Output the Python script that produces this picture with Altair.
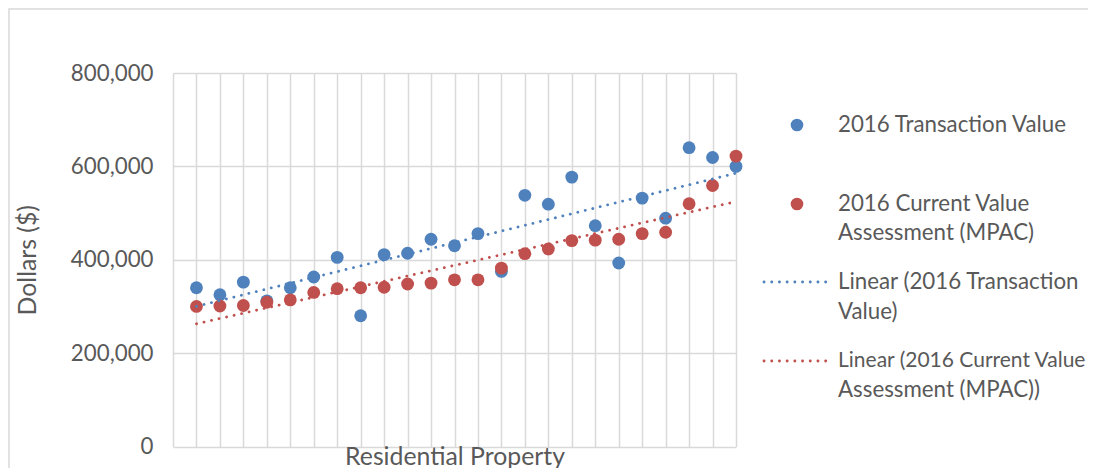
import altair as alt
import pandas as pd

# ---- data ----
properties = list(range(1, 25))
transaction_value = [340000, 325000, 352000, 312000, 340000, 363000, 405000, 280000,
                     411000, 414000, 444000, 430000, 456000, 375000, 538000, 519000,
                     577000, 473000, 393000, 532000, 489000, 640000, 619000, 600000]
assessment_value = [300000, 301000, 302000, 309000, 314000, 330000, 338000, 340000,
                    341000, 348000, 350000, 357000, 357000, 382000, 413000, 423000,
                    441000, 442000, 444000, 456000, 459000, 520000, 559000, 622000]
series_names = ["2016 Transaction Value", "2016 Current Value Assessment (MPAC)"]
y_ticks = [0, 200000, 400000, 600000, 800000]
x_grid = list(range(0, 25))
legend_lines = [
    ["2016 Transaction Value"],
    ["2016 Current Value", "Assessment (MPAC)"],
    ["Linear (2016 Transaction", "Value)"],
    ["Linear (2016 Current Value", "Assessment (MPAC))"],
]
colors = ["#4F81BD", "#C0504D"]

FONT = "Lato"
FS = 22.3
FT = 24.8
TXT = "#595959"
GRID = "#D9D9D9"
W, H = 563, 373.5

df = pd.DataFrame({
    "prop": properties * 2,
    "value": transaction_value + assessment_value,
    "series": [series_names[0]] * 24 + [series_names[1]] * 24,
})

color = alt.Color("series:N", scale=alt.Scale(domain=series_names, range=colors), legend=None)
x = alt.X("prop:Q", scale=alt.Scale(domain=[0, 24], nice=False),
          axis=alt.Axis(values=x_grid, labels=False, ticks=False, domain=False,
                        grid=True, gridColor=GRID, gridWidth=1.5,
                        title="Residential Property", titleFont=FONT, titleFontSize=FT,
                        titleColor=TXT, titleFontWeight="normal",
                        titleX=W / 2, titleY=10.5, titleBaseline="middle"))
y = alt.Y("value:Q", scale=alt.Scale(domain=[0, 800000], nice=False),
          axis=alt.Axis(values=y_ticks, format=",.0f", ticks=False, domain=False,
                        grid=True, gridColor=GRID, gridWidth=1.5,
                        labelFont=FONT, labelFontSize=FS, labelColor=TXT, labelPadding=20,
                        title="Dollars ($)", titleFont=FONT, titleFontSize=FT,
                        titleColor=TXT, titleFontWeight="normal",
                        titleX=-145, titleY=H / 2, titleBaseline="middle", titleAngle=-90))

base = alt.Chart(df)
pts_blue = base.transform_filter(alt.datum.series == series_names[0]).mark_circle(
    size=165, opacity=1).encode(x=x, y=y, color=color)
pts_red = base.transform_filter(alt.datum.series == series_names[1]).mark_circle(
    size=165, opacity=1).encode(x=x, y=y, color=color)
trend = base.transform_regression("prop", "value", groupby=["series"], extent=[1, 24]).mark_line(
    strokeWidth=2.8, strokeDash=[0.1, 7.6], strokeCap="round").encode(
    x=x, y=y, color=color, detail="series:N")

# ---- legend (decoration) ----
lx0 = 589
leg_layers = []
sym_y = [52, 131]
for i in range(2):
    leg_layers.append(alt.Chart(pd.DataFrame({"a": [0]})).mark_circle(
        size=160, opacity=1, color=colors[i]).encode(x=alt.value(624), y=alt.value(sym_y[i])))
line_y = [209, 288]
for i in range(2):
    leg_layers.append(alt.Chart(pd.DataFrame({"a": [0]})).mark_rule(
        color=colors[i], strokeWidth=2.8, strokeDash=[0.1, 7.6], strokeCap="round").encode(
        x=alt.value(lx0 + 2), x2=alt.value(lx0 + 69), y=alt.value(line_y[i])))
text_y = [[52], [131, 160], [209, 239], [288, 317]]
for lines, ys in zip(legend_lines, text_y):
    for t, ty in zip(lines, ys):
        fs = 21.0 if t == "Linear (2016 Current Value" else FS
        leg_layers.append(alt.Chart(pd.DataFrame({"a": [0]})).mark_text(
            text=t, align="left", baseline="middle", font=FONT, fontSize=fs, color=TXT).encode(
            x=alt.value(665), y=alt.value(ty)))

border = alt.Chart(pd.DataFrame({"a": [0]})).mark_rect(
    fill=None, stroke=GRID, strokeWidth=1.5).encode(
    x=alt.value(-164), x2=alt.value(1000), y=alt.value(-64), y2=alt.value(500))

chart = alt.layer(border, pts_blue, pts_red, trend, *leg_layers).properties(
    width=W, height=H,
    autosize=alt.AutoSizeParams(type="none"),
    padding={"left": 165, "top": 65, "right": 352, "bottom": 21.5},
).configure_view(stroke=None)

chart.save("out.html", embed_options={"renderer": "svg", "actions": False})
